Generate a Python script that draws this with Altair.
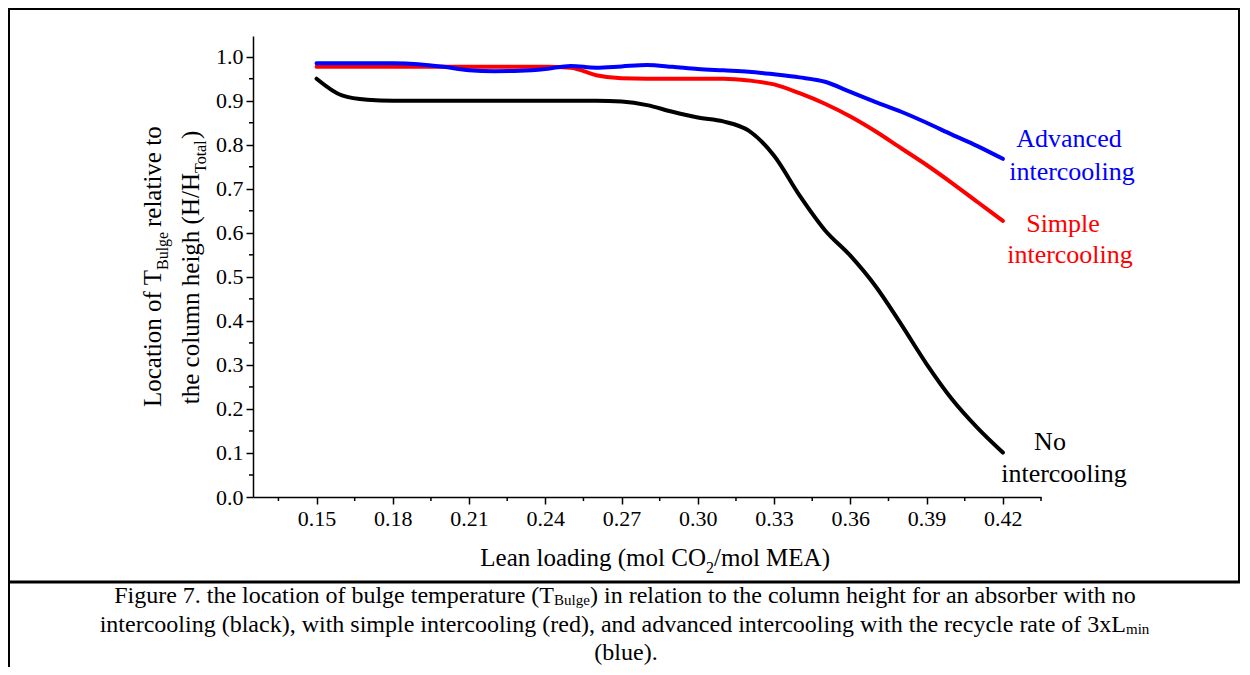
import altair as alt
import pandas as pd

# ---------------- data ----------------
LOADING = [0.15, 0.16, 0.17, 0.18, 0.19, 0.20, 0.21, 0.22, 0.23, 0.24,
           0.25, 0.26, 0.27, 0.28, 0.29, 0.30, 0.31, 0.32, 0.33, 0.34,
           0.35, 0.36, 0.37, 0.38, 0.39, 0.40, 0.41, 0.42]
NO_IC = [0.950, 0.912, 0.902, 0.900, 0.900, 0.900, 0.900, 0.900, 0.900, 0.900,
         0.900, 0.900, 0.898, 0.890, 0.875, 0.862, 0.853, 0.832, 0.775, 0.685,
         0.606, 0.548, 0.478, 0.392, 0.302, 0.222, 0.157, 0.101]
SIMPLE_IC = [0.977, 0.977, 0.977, 0.977, 0.977, 0.977, 0.977, 0.977, 0.977, 0.977,
             0.975, 0.958, 0.951, 0.950, 0.950, 0.950, 0.950, 0.946, 0.937, 0.917,
             0.893, 0.864, 0.830, 0.792, 0.754, 0.713, 0.670, 0.627]
ADVANCED_IC = [0.985, 0.985, 0.985, 0.985, 0.983, 0.977, 0.969, 0.967, 0.968, 0.972,
               0.979, 0.975, 0.978, 0.981, 0.977, 0.972, 0.969, 0.966, 0.960, 0.953,
               0.943, 0.920, 0.897, 0.875, 0.850, 0.823, 0.797, 0.768]

X_TICKS = [0.15, 0.18, 0.21, 0.24, 0.27, 0.30, 0.33, 0.36, 0.39, 0.42]
X_MINOR = [0.135, 0.165, 0.195, 0.225, 0.255, 0.285, 0.315, 0.345, 0.375, 0.405, 0.435]
Y_TICKS = [0.0, 0.1, 0.2, 0.3, 0.4, 0.5, 0.6, 0.7, 0.8, 0.9, 1.0]
Y_MINOR = [0.05, 0.15, 0.25, 0.35, 0.45, 0.55, 0.65, 0.75, 0.85, 0.95]

FONT = "Liberation Serif"
W, H = 788, 461

series = pd.DataFrame({
    "loading": LOADING * 3,
    "value": NO_IC + SIMPLE_IC + ADVANCED_IC,
    "series": ["No intercooling"] * len(LOADING)
              + ["Simple intercooling"] * len(LOADING)
              + ["Advanced intercooling"] * len(LOADING),
})

xscale = alt.Scale(domain=[0.125, 0.435], nice=False, zero=False)
yscale = alt.Scale(domain=[0.0, 1.047], nice=False, zero=False)
xaxis = alt.Axis(values=X_TICKS, format=".2f", title=None, grid=False)
yaxis = alt.Axis(values=Y_TICKS, format=".1f", title=None, grid=False)


def curve(name, color):
    return alt.Chart(series).transform_filter(
        alt.datum.series == name
    ).mark_line(
        interpolate="monotone", strokeWidth=4, color=color,
        strokeCap="round", strokeJoin="round"
    ).encode(
        x=alt.X("loading:Q", scale=xscale, axis=xaxis),
        y=alt.Y("value:Q", scale=yscale, axis=yaxis),
    )


x_minor = alt.Chart(pd.DataFrame({"loading": X_MINOR})).mark_rule(
    color="black", strokeWidth=1.5
).encode(
    x=alt.X("loading:Q", scale=xscale, axis=xaxis),
    y=alt.value(H), y2=alt.value(H + 4),
)
y_minor = alt.Chart(pd.DataFrame({"value": Y_MINOR})).mark_rule(
    color="black", strokeWidth=1.5
).encode(
    y=alt.Y("value:Q", scale=yscale, axis=yaxis),
    x=alt.value(0), x2=alt.value(-4),
)

ONE = pd.DataFrame({"t": [0]})


def txt(text, x, y, size, color="black", align="left", angle=0):
    return alt.Chart(pd.DataFrame({"t": [text]})).mark_text(
        font=FONT, fontSize=size, color=color, align=align,
        baseline="alphabetic", angle=angle
    ).encode(text="t:N", x=alt.value(x), y=alt.value(y))


def vline(x, y1, y2, w=2):
    return alt.Chart(ONE).mark_rule(color="black", strokeWidth=w).encode(
        x=alt.value(x), y=alt.value(y1), y2=alt.value(y2))


def hline(y, x1, x2, w=2):
    return alt.Chart(ONE).mark_rule(color="black", strokeWidth=w).encode(
        y=alt.value(y), x=alt.value(x1), x2=alt.value(x2))


texts = [
    # y-axis title (rotated, two lines, with subscripts)
    txt("Location of T", -92, 234, 25, align="right", angle=270),
    txt("Bulge", -85, 234, 16, align="left", angle=270),
    txt(" relative to", -92, 191, 25, align="left", angle=270),
    txt("the column heigh (H/H", -54, 137, 25, align="right", angle=270),
    txt("Total", -47, 137, 16, align="left", angle=270),
    txt(")", -54, 103, 25, align="left", angle=270),
    # x-axis title
    txt("Lean loading (mol CO", 453, 530, 25, align="right"),
    txt("2", 453, 537, 16, align="left"),
    txt("/mol MEA)", 461, 530, 25, align="left"),
    # series labels
    txt("Advanced", 816, 111, 26, color="#0000FF", align="center"),
    txt("intercooling", 819, 144, 26, color="#0000FF", align="center"),
    txt("Simple", 810, 196, 26, color="#FF0000", align="center"),
    txt("intercooling", 817, 227, 26, color="#FF0000", align="center"),
    txt("No", 797, 414, 26, align="center"),
    txt("intercooling", 811, 446, 26, align="center"),
    # caption
    txt("Figure 7. the location of bulge temperature (T", 301, 567, 24, align="right"),
    txt("Bulge", 301, 569, 15, align="left"),
    txt(") in relation to the column height for an absorber with no", 337, 567, 24, align="left"),
    txt("intercooling (black), with simple intercooling (red), and advanced intercooling with the recycle rate of 3xL",
        873, 596, 24, align="right"),
    txt("min", 873, 598, 15, align="left"),
    txt("(blue).", 373, 624, 24, align="center"),
]

frame = [
    hline(-27, -245, 987, 2),
    vline(-244, -28, 631, 2),
    vline(986, -28, 546, 2),
    hline(546, -245, 987, 3),
]

chart = alt.layer(
    x_minor, y_minor,
    curve("No intercooling", "#000000"),
    curve("Simple intercooling", "#FF0000"),
    curve("Advanced intercooling", "#0000FF"),
    *texts, *frame,
).properties(
    width=W, height=H,
    padding={"left": 245, "top": 28, "right": 199, "bottom": 170},
    autosize="none",
).configure_view(stroke=None).configure_axis(
    labelFont=FONT, labelFontSize=22, labelColor="black",
    domainColor="black", domainWidth=1.5,
    tickColor="black", tickWidth=1.5, tickSize=7,
).configure_axisX(labelPadding=4).configure_axisY(labelPadding=3)

chart.save("out.html", embed_options={"renderer": "svg", "actions": False})
